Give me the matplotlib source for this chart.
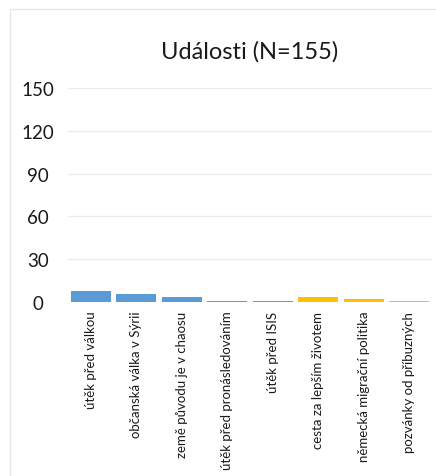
import matplotlib
matplotlib.use('Agg')
import matplotlib.pyplot as plt
from matplotlib.patches import Rectangle
import numpy as np

plt.rcParams['font.family'] = ['Lato', 'DejaVu Sans']

# counts per event category
categories = ['útěk před válkou', 'občanská válka v Sýrii', 'země původu je v chaosu',
              'útěk před pronásledováním', 'útěk před ISIS', 'cesta za lepším životem',
              'německá migrační politika', 'pozvánky od příbuzných']
counts = [8, 6, 4, 1, 1, 4, 2, 1]
groups = ['push', 'push', 'push', 'push', 'push', 'pull', 'pull', 'pull']
yticks = [0, 30, 60, 90, 120, 150]

group_colors = {'push': '#5b9bd5', 'pull': '#ffc000'}

fig = plt.figure(figsize=(4.36, 4.77), dpi=100)
W, H = 436, 477

# light frame round the chart
fig.patches.append(Rectangle((10 / W, -0.1), 1.2, 1 - 10 / H + 0.1, transform=fig.transFigure,
                             fill=False, edgecolor='#e6e6e6', linewidth=1.0))

ax = fig.add_axes([68 / W, 1 - 303.3 / H, (432 - 68) / W, (303.3 - 88.7) / H])

x = np.arange(len(categories))
ax.bar(x, counts, width=0.87, color=[group_colors[g] for g in groups], zorder=3)

ax.set_xlim(-0.5, len(categories) - 0.5)
ax.set_ylim(0, 150)
ax.set_yticks(yticks)
ax.set_yticklabels([str(v) for v in yticks], fontsize=13.5, color='#1a1a1a')
for lab in ax.get_yticklabels():
    lab.set_ha('center')
ax.tick_params(axis='y', length=0, pad=21.6)

ax.set_xticks(x)
ax.set_xticklabels(categories, rotation=90, fontsize=9.5, color='#1a1a1a')
ax.tick_params(axis='x', length=0, pad=6)

ax.grid(axis='y', color='#ececec', linewidth=1.0, zorder=0)
for s in ax.spines.values():
    s.set_visible(False)

ax.set_title('Události (N=155)', fontsize=17, pad=22, color='#1a1a1a')

fig.savefig('out.png', dpi=100)
